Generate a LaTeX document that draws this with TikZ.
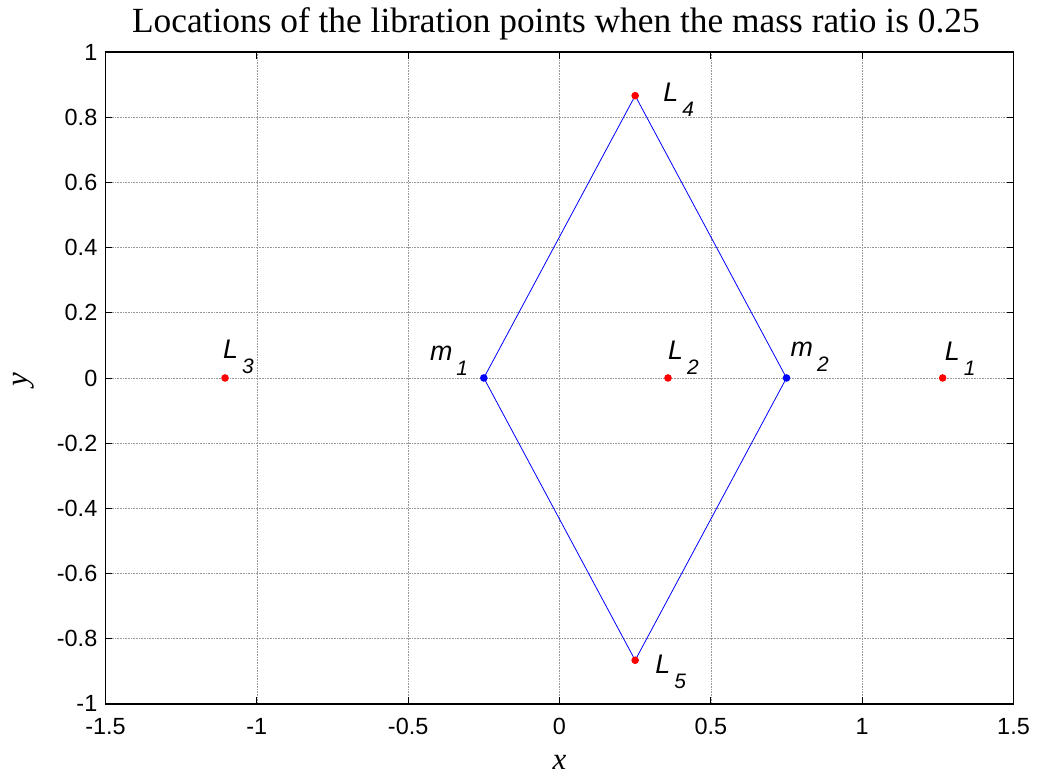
\documentclass[tikz,border=0pt]{standalone}
\usepackage{fontspec}
\setmainfont{Liberation Serif}
\newfontfamily\helv{Liberation Sans}
\usepackage{tikz}
\usepackage{tkz-euclide}

\newcommand{\tickfont}{\helv\fontsize{23.5}{27}\selectfont}
\newcommand{\ptfont}{\helv\itshape\fontsize{27}{30}\selectfont}
\newcommand{\subfont}{\helv\itshape\fontsize{21}{24}\selectfont}
\newcommand{\ptname}[2]{#1\kern4bp\raisebox{-15bp}{\subfont #2}}

\tikzset{
  gridline/.style={gray!80, densely dotted, line width=0.6bp},
  ptlab/.style={anchor=base west, inner sep=0pt, font=\ptfont},
  ticklab/.style={inner sep=0pt, font=\tickfont}
}

\begin{document}
\begin{tikzpicture}[x=302.7bp, y=326bp]
            \useasboundingbox (-1.8485,-1.2178) rectangle (1.5809,1.1595);
            \tkzDefPoints{-0.25/0/M1, 0.75/0/M2, 0.25/0.8660/L4, 0.25/-0.8660/L5}
            \tkzDefPoints{1.2659/0/L1, 0.3584/0/L2, -1.1050/0/L3}
            % grid and ticks
            \foreach \gx in {-1,-0.5,0,0.5,1}
              \draw[gridline] (\gx,-1) -- (\gx,1);
            \foreach \gy in {-0.8,-0.6,-0.4,-0.2,0,0.2,0.4,0.6,0.8}
              \draw[gridline] (-1.5,\gy) -- (1.5,\gy);
            \foreach \gx in {-1.5,-1,-0.5,0,0.5,1,1.5}{
              \draw[line width=0.8bp] (\gx,-1) -- ++(0pt,7bp);
              \draw[line width=0.8bp] (\gx,1) -- ++(0pt,-7bp);
              \node[ticklab, anchor=north] at ([yshift=-14bp]\gx,-1) {\gx};
            }
            \foreach \gy in {-1,-0.8,-0.6,-0.4,-0.2,0,0.2,0.4,0.6,0.8,1}{
              \draw[line width=0.8bp] (-1.5,\gy) -- ++(7bp,0pt);
              \draw[line width=0.8bp] (1.5,\gy) -- ++(-7bp,0pt);
              \node[ticklab, anchor=east] at ([xshift=-8bp]-1.5,\gy) {\gy};
            }
            \draw[line width=1.5bp] (-1.5,-1) rectangle (1.5,1);
            % diamond and points
            \tkzDrawPolygon[blue, line width=0.8bp](M1,L4,M2,L5)
            \foreach \p in {M1,M2} \fill[blue] (\p) circle (3.8bp);
            \foreach \p in {L1,L2,L3,L4,L5} \fill[red] (\p) circle (3.8bp);
            \node[ptlab, xshift=2bp, yshift=17bp] (labL1) at (L1) {\ptname{L}{1}};
            \node[ptlab, xshift=0bp, yshift=18bp] (labL2) at (L2) {\ptname{L}{2}};
            \node[ptlab, xshift=-2bp, yshift=19bp] (labL3) at (L3) {\ptname{L}{3}};
            \node[ptlab, xshift=28bp, yshift=-6bp] (labL4) at (L4) {\ptname{L}{4}};
            \node[ptlab, xshift=20bp, yshift=-13bp] (labL5) at (L5) {\ptname{L}{5}};
            \node[ptlab, xshift=-54bp, yshift=17bp] (labM1) at (M1) {\ptname{m}{1}};
            \node[ptlab, xshift=4bp, yshift=21bp] (labM2) at (M2) {\ptname{m}{2}};
            % title and axis labels
            \node[anchor=base, inner sep=0pt, font=\fontsize{35.5}{40}\selectfont] (title) at (-0.012,1.0613)
              {Locations of the libration points when the mass ratio is 0.25};
            \node[anchor=base, inner sep=0pt, font=\itshape\fontsize{31}{36}\selectfont] (xlab) at (0,-1.2025) {x};
            \node[anchor=base, rotate=90, inner sep=0pt, font=\itshape\fontsize{31}{36}\selectfont] (ylab) at (-1.756,-0.006) {y};
        \end{tikzpicture}
\end{document}
